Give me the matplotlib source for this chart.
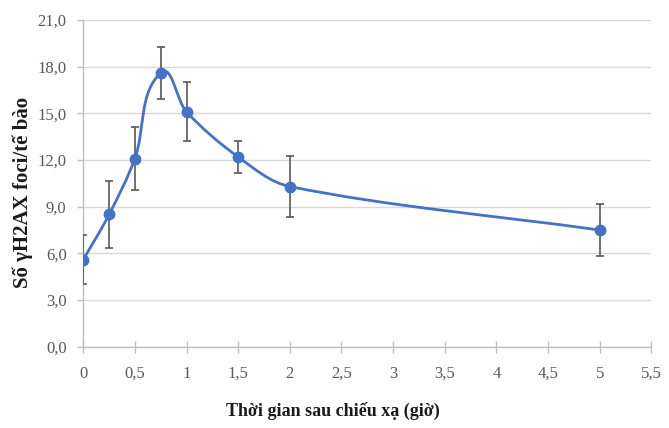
import numpy as np
import matplotlib
matplotlib.use("Agg")
from matplotlib import pyplot as plt
from matplotlib.path import Path
from matplotlib.patches import PathPatch

# data
hours = [0, 0.25, 0.5, 0.75, 1, 1.5, 2, 5]
foci = [5.6, 8.5, 12.1, 17.6, 15.1, 12.2, 10.3, 7.5]
err = [1.6, 2.15, 2.05, 1.7, 1.9, 1.05, 1.95, 1.65]

x_ticks = [0, 0.5, 1, 1.5, 2, 2.5, 3, 3.5, 4, 4.5, 5, 5.5]
x_labels = ['0', '0,5', '1', '1,5', '2', '2,5', '3', '3,5', '4', '4,5', '5', '5,5']
y_ticks = [0, 3, 6, 9, 12, 15, 18, 21]
y_labels = ['0,0', '3,0', '6,0', '9,0', '12,0', '15,0', '18,0', '21,0']

plt.rcParams['font.family'] = ['Liberation Serif', 'DejaVu Serif']

blue = '#4472C4'
grey = '#595959'

fig = plt.figure(figsize=(6.69, 4.28), dpi=100)
ax = fig.add_axes([0.1245, 0.19, 0.849, 0.763])
ax.set_xlim(0, 5.5)
ax.set_ylim(0, 21)


def smooth_path(xs, ys, sx, sy):
    # smoothed line like Excel: Bezier segments, tangents scaled by chord length
    # (worked out in screen-like units sx, sy per data unit)
    pts = np.column_stack([np.array(xs) * sx, np.array(ys) * sy]).astype(float)
    n = len(pts)
    d = np.hypot(*np.diff(pts, axis=0).T)
    tang = []
    for i in range(n):
        a = pts[i - 1] if i > 0 else pts[i]
        b = pts[i + 1] if i < n - 1 else pts[i]
        t = b - a
        nt = np.hypot(*t)
        tang.append(t / nt if nt > 0 else t)
    verts = [pts[0]]
    codes = [Path.MOVETO]
    for i in range(n - 1):
        c1 = pts[i] + tang[i] * d[i] / 3.0
        c2 = pts[i + 1] - tang[i + 1] * d[i] / 3.0
        verts += [c1, c2, pts[i + 1]]
        codes += [Path.CURVE4] * 3
    verts = np.array(verts) / [sx, sy]
    return Path(verts, codes)


ax.add_patch(PathPatch(smooth_path(hours, foci, 103.2, 15.56), facecolor='none',
                       edgecolor=blue, lw=2.0, zorder=3, capstyle='round'))
ax.errorbar(hours, foci, yerr=err, fmt='none', ecolor=grey, elinewidth=1.2,
            capsize=3.2, capthick=1.2, zorder=4)
ax.plot(hours, foci, 'o', color=blue, markersize=7.5, zorder=5)

ax.set_xticks(x_ticks)
ax.set_xticklabels(x_labels)
ax.set_yticks(y_ticks)
ax.set_yticklabels(y_labels)

ax.yaxis.grid(True, color='#d9d9d9', lw=1.0)
ax.set_axisbelow(True)
for s in ['top', 'right']:
    ax.spines[s].set_visible(False)
for s in ['left', 'bottom']:
    ax.spines[s].set_color('#bfbfbf')
    ax.spines[s].set_linewidth(1.0)

ax.tick_params(axis='x', direction='inout', length=8, width=1.0, color='#bfbfbf',
               labelsize=12, labelcolor=grey, pad=10)
ax.tick_params(axis='y', direction='out', length=4, width=1.0, color='#bfbfbf',
               labelsize=12, labelcolor=grey, pad=8)

fig.text(0.498, 0.04, 'Thời gian sau chiếu xạ (giờ)', ha='center', va='center',
         fontsize=13, fontweight='bold', color='#1a1a1a')
fig.text(0.034, 0.55, 'Số γH2AX foci/tế bào', ha='center', va='center',
         rotation=90, fontsize=15, fontweight='bold', color='#1a1a1a')

fig.savefig('out.png', dpi=100)
